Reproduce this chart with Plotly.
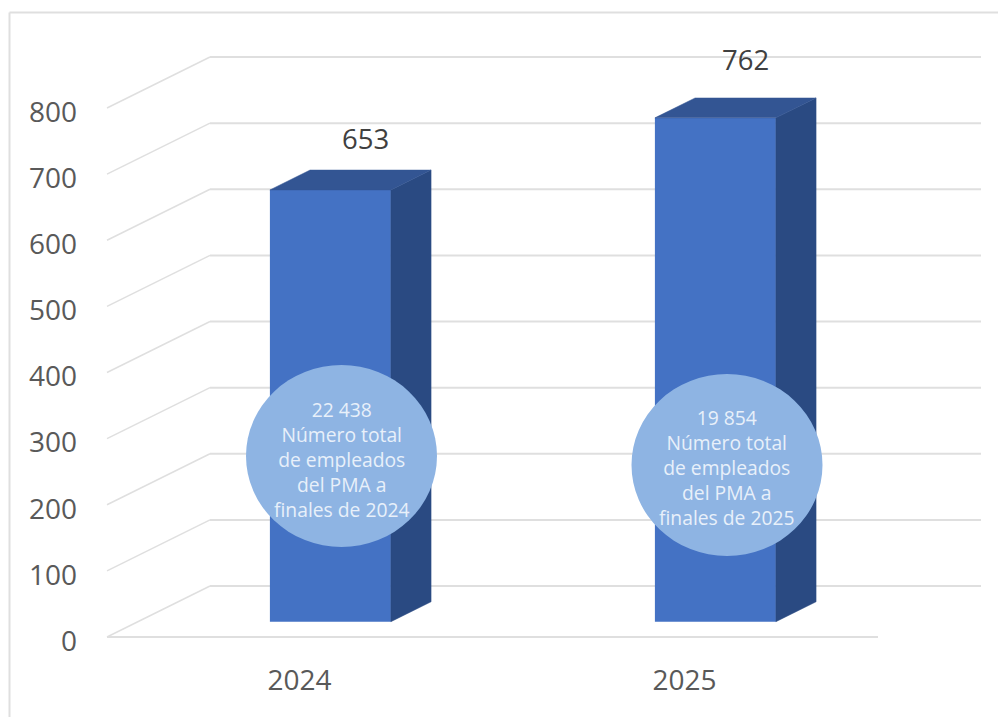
import plotly.graph_objects as go

# Chart data
years = ["2024", "2025"]
staff_counts = [653, 762]
value_ticks = [0, 100, 200, 300, 400, 500, 600, 700, 800]
circle_notes = [
    "22 438<br>Número total<br>de empleados<br>del PMA a<br>finales de 2024",
    "19 854<br>Número total<br>de empleados<br>del PMA a<br>finales de 2025",
]

# Page geometry
WIDTH, HEIGHT = 998, 717
M_L, M_R, M_T, M_B = 100, 10, 40, 72
PX_PER_CAT = 385.0
PX_PER_VAL = 0.6612
CAT0_PX = 299.5
FLOOR_PX = 637.0

# Oblique projection: a full step of depth moves a point this far on the axes
DEPTH_X = 103 / PX_PER_CAT
DEPTH_Y = 51 / PX_PER_VAL
BAR_NEAR, BAR_FAR = 0.3, 0.69
BAR_WIDTH = 121 / PX_PER_CAT
FLOOR_RIGHT = (878 - CAT0_PX) / PX_PER_CAT
LEFT = -0.5

x_range = [(M_L - CAT0_PX) / PX_PER_CAT, (WIDTH - M_R - CAT0_PX) / PX_PER_CAT]
y_range = [(FLOOR_PX - (HEIGHT - M_B)) / PX_PER_VAL, (FLOOR_PX - M_T) / PX_PER_VAL]


def project(x, v, d):
    return x + d * DEPTH_X, v + d * DEPTH_Y


def px_x(p):
    return (p - M_L) / (WIDTH - M_L - M_R)


def px_y(p):
    return 1 - (p - M_T) / (HEIGHT - M_T - M_B)


GRID = "#dfdfdf"
shapes = []

# Wall and side gridlines
for v in value_ticks:
    x0, y0 = project(LEFT, v, 0)
    x1, y1 = project(LEFT, v, 1)
    x2, y2 = project(FLOOR_RIGHT, v, 1)
    shapes.append(dict(type="line", layer="below", xref="x", yref="y", x0=x0, y0=y0, x1=x1, y1=y1,
                       line=dict(color=GRID, width=1.5)))
    shapes.append(dict(type="line", layer="below", xref="x", yref="y", x0=x1, y0=y1, x1=x2, y1=y2,
                       line=dict(color=GRID, width=2)))
shapes.append(dict(type="line", layer="below", xref="x", yref="y", x0=LEFT, y0=0, x1=FLOOR_RIGHT, y1=0,
                   line=dict(color=GRID, width=2)))

# Outer frame, open on the right and at the bottom
shapes.append(dict(type="line", xref="paper", yref="paper", layer="below",
                   x0=px_x(9.5), y0=px_y(717), x1=px_x(9.5), y1=px_y(12.5), line=dict(color=GRID, width=2)))
shapes.append(dict(type="line", xref="paper", yref="paper", layer="below",
                   x0=px_x(9.5), y0=px_y(12.5), x1=px_x(998), y1=px_y(12.5), line=dict(color=GRID, width=2)))

# Note circles
for cx, cy, rx, ry in [(341.5, 456, 95.5, 91), (727, 465, 95.5, 91)]:
    shapes.append(dict(type="circle", layer="above", xref="paper", yref="paper",
                       x0=px_x(cx - rx), x1=px_x(cx + rx), y0=px_y(cy + ry), y1=px_y(cy - ry),
                       fillcolor="#8eb4e3", line=dict(width=0)))

fig = go.Figure()

centers = list(range(len(years)))
near_xs = [project(c, 0, BAR_NEAR)[0] for c in centers]
fig.add_trace(go.Bar(x=near_xs, y=staff_counts, base=[BAR_NEAR * DEPTH_Y] * len(years), width=BAR_WIDTH,
                     marker=dict(color="#4472c4", line=dict(width=0)), hoverinfo="skip", showlegend=False))

# Side and top faces of each box
for c, v in zip(centers, staff_counts):
    xn = project(c, 0, BAR_NEAR)[0] + BAR_WIDTH / 2
    xf = project(c, 0, BAR_FAR)[0] + BAR_WIDTH / 2
    yn0, yn1 = BAR_NEAR * DEPTH_Y, v + BAR_NEAR * DEPTH_Y
    yf0, yf1 = BAR_FAR * DEPTH_Y, v + BAR_FAR * DEPTH_Y
    fig.add_trace(go.Scatter(x=[xn, xf, xf, xn, xn], y=[yn0, yf0, yf1, yn1, yn0], mode="lines", fill="toself",
                             fillcolor="#2a4a82", line=dict(color="#2a4a82", width=0.5),
                             hoverinfo="skip", showlegend=False))
    fig.add_trace(go.Scatter(x=[xn - BAR_WIDTH, xn, xf, xf - BAR_WIDTH, xn - BAR_WIDTH],
                             y=[yn1, yn1, yf1, yf1, yn1], mode="lines", fill="toself",
                             fillcolor="#335593", line=dict(color="#335593", width=0.5),
                             hoverinfo="skip", showlegend=False))

annotations = []
# Value labels above the boxes
for c, v, dx, dy in zip(centers, staff_counts, [35, 30], [51, 58]):
    annotations.append(dict(x=project(c, 0, BAR_NEAR)[0], y=v + BAR_NEAR * DEPTH_Y, xref="x", yref="y",
                            text=str(v), showarrow=False, xshift=dx, yshift=dy,
                            xanchor="center", yanchor="middle",
                            font=dict(family="Open Sans", size=27.5, color="#404040")))
# Circle captions
for text, cx, cy in zip(circle_notes, [341.5, 727], [459, 467.5]):
    annotations.append(dict(x=px_x(cx), y=px_y(cy), xref="paper", yref="paper", text=text, showarrow=False,
                            xanchor="center", yanchor="middle", align="center",
                            font=dict(family="Open Sans", size=19.3, color="#e8f0fa")))

fig.update_layout(
    width=WIDTH, height=HEIGHT, autosize=False,
    margin=dict(l=M_L, r=M_R, t=M_T, b=M_B, pad=0),
    paper_bgcolor="white", plot_bgcolor="white",
    shapes=shapes, annotations=annotations, showlegend=False,
    xaxis=dict(range=x_range, tickmode="array", tickvals=centers, ticktext=years, showgrid=False, zeroline=False,
               showline=False, ticks="", ticklabelstandoff=16,
               tickfont=dict(family="Open Sans", size=28, color="#595959"), fixedrange=True),
    yaxis=dict(range=y_range, tickmode="array", tickvals=value_ticks, ticktext=[str(t) for t in value_ticks],
               showgrid=False, zeroline=False, showline=False, ticks="", ticklabelstandoff=22, ticklabelshift=4,
               tickfont=dict(family="Open Sans", size=28, color="#595959"), fixedrange=True),
)

fig.write_html("out.html")
